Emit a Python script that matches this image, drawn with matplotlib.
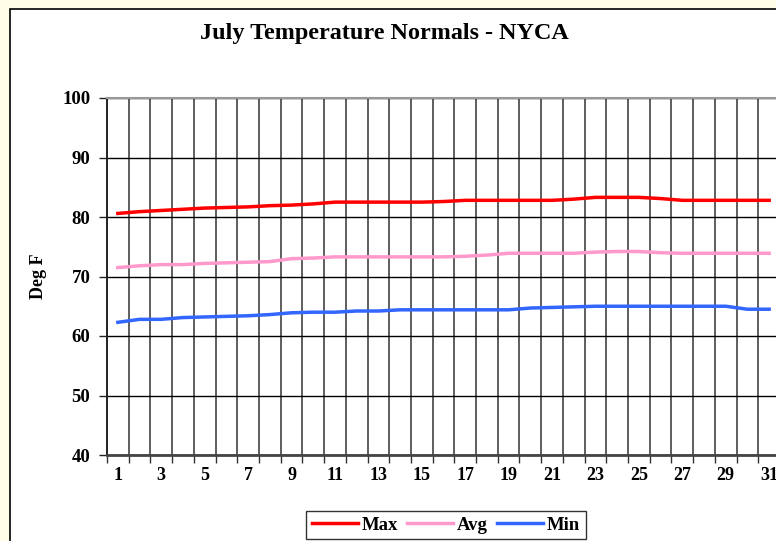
import matplotlib
matplotlib.use("Agg")
import matplotlib.pyplot as plt
from matplotlib.patches import Rectangle

# July daily normals (deg F)
days = list(range(1, 32))
max_temp = [80.6, 80.9, 81.1, 81.3, 81.5, 81.6, 81.7, 81.9, 82.0, 82.2,
            82.5, 82.5, 82.5, 82.5, 82.5, 82.6, 82.8, 82.8, 82.8, 82.8,
            82.8, 83.0, 83.3, 83.3, 83.3, 83.1, 82.8, 82.8, 82.8, 82.8, 82.8]
avg_temp = [71.5, 71.8, 72.0, 72.0, 72.2, 72.3, 72.4, 72.5, 73.0, 73.1,
            73.3, 73.3, 73.3, 73.3, 73.3, 73.3, 73.4, 73.6, 73.9, 73.9,
            73.9, 73.9, 74.1, 74.2, 74.2, 74.0, 73.9, 73.9, 73.9, 73.9, 73.9]
min_temp = [62.3, 62.8, 62.8, 63.1, 63.2, 63.3, 63.4, 63.6, 63.9, 64.0,
            64.0, 64.2, 64.2, 64.4, 64.4, 64.4, 64.4, 64.4, 64.4, 64.7,
            64.8, 64.9, 65.0, 65.0, 65.0, 65.0, 65.0, 65.0, 65.0, 64.5, 64.5]
y_ticks = [40, 50, 60, 70, 80, 90, 100]

W, H = 776, 541
plt.rcParams['font.family'] = ['Liberation Serif', 'DejaVu Serif']
plt.rcParams['font.weight'] = 'bold'

fig = plt.figure(figsize=(W / 100, H / 100), dpi=100, facecolor='#fffde8')

# chart area (white box, runs off the right and bottom edges)
fig.patches.append(Rectangle((10 / W, -0.2), 2.0, 1.2 - 9 / H,
                             transform=fig.transFigure, facecolor='white',
                             edgecolor='black', linewidth=1.2, zorder=-10))

ax = fig.add_axes([107 / W, 1 - 455 / H, (780 - 107) / W, (455 - 98) / H])
ax.set_facecolor('white')

ax.plot(days, max_temp, color='#ff0000', lw=2.5, label='Max', zorder=3)
ax.plot(days, avg_temp, color='#ff99cc', lw=2.5, label='Avg', zorder=3)
ax.plot(days, min_temp, color='#3366ff', lw=2.5, label='Min', zorder=3)

ax.set_xlim(0.5, 31.5)
ax.set_ylim(40, 100)

# category boundaries carry tick marks and vertical grid lines
ax.set_xticks([d + 0.5 for d in range(0, 32)])
ax.set_xticklabels([])
ax.set_xticks(days[::2], minor=True)
ax.set_xticklabels([str(d) for d in days[::2]], minor=True, fontsize=13,
                   fontweight='bold')
ax.tick_params(axis='x', which='major', direction='out', length=6,
               width=1, color='#333333')
ax.tick_params(axis='x', which='minor', length=0, pad=9)
ax.grid(axis='x', which='major', color='#333333', lw=1.1)

ax.set_yticks(y_ticks)
ax.set_yticklabels([str(v) for v in y_ticks], fontsize=13.5, fontweight='bold')
ax.tick_params(axis='y', direction='out', length=6, width=1, pad=6,
               color='#222222')
ax.grid(axis='y', color='black', lw=1.0)

ax.spines['left'].set_color('#222222')
ax.spines['left'].set_linewidth(1.4)
ax.spines['bottom'].set_color('#444444')
ax.spines['bottom'].set_linewidth(2.0)
ax.spines['top'].set_color('#999999')
ax.spines['top'].set_linewidth(1.5)
ax.spines['right'].set_visible(False)
ax.set_axisbelow(True)

ax.set_ylabel('Deg F', fontsize=13, fontweight='bold', labelpad=11)

fig.text(384 / W, 1 - 33 / H, 'July Temperature Normals - NYCA',
         ha='center', va='center', fontsize=17.4, fontweight='bold')

leg = fig.legend(loc='center', bbox_to_anchor=(446 / W, 1 - 525 / H), ncol=3,
                 frameon=True, fancybox=False, edgecolor='black',
                 prop={'weight': 'bold', 'size': 13.5}, handlelength=2.45,
                 handletextpad=0.2, columnspacing=0.5, borderpad=0.3)
leg.get_frame().set_linewidth(1.0)

fig.savefig('out.png', dpi=100, facecolor=fig.get_facecolor())
